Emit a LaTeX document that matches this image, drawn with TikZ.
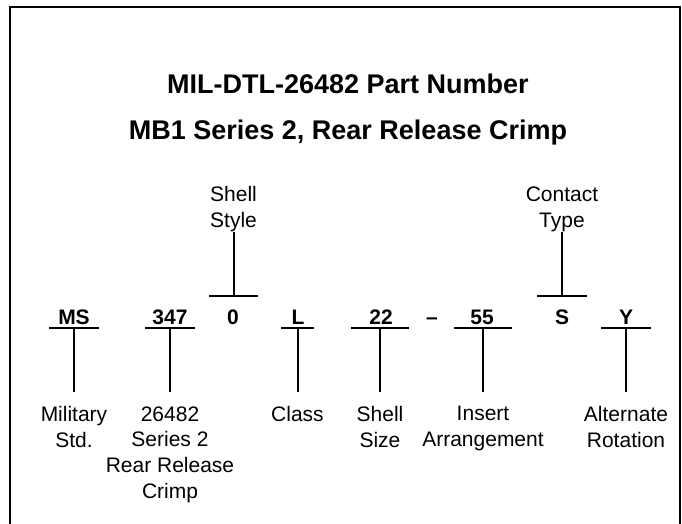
\documentclass[tikz,border=0pt]{standalone}
\usepackage{fontspec}
\setmainfont{Liberation Sans}
\usepackage{tikz}
\usetikzlibrary{positioning}
\tikzstyle{heading} = [font=\fontsize{27}{32}\selectfont\bfseries, inner sep=0pt]
\tikzstyle{code} = [font=\fontsize{21}{25.7}\selectfont\bfseries, inner sep=0pt]
\tikzstyle{desc} = [font=\fontsize{21}{25.7}\selectfont, align=center, inner sep=0pt]
\tikzstyle{underbar} = [rectangle, fill=black, minimum height=2pt, inner sep=0pt]
\tikzstyle{leg} = [line width=2pt]
\tikzstyle{legdown} = [line width=2pt, shorten >=14pt]

\begin{document}
\begin{tikzpicture}[x=1pt, y=1pt]

\useasboundingbox (0,0) rectangle (682,523);

% Frame
\draw [line width=2pt] (10,-4) -- (10,516) -- (680,516) -- (680,-4);

% Title
\node (title) [heading, anchor=base] at (348,429) {MIL-DTL-26482 Part Number};
\node (subtitle) [heading, anchor=base] at (348,383) {MB1 Series 2, Rear Release Crimp};

% Part number
\node (ms) [code, anchor=base] at (74,199) {MS};
\node (series) [code, anchor=base] at (170,199) {347};
\node (style) [code, anchor=base] at (233,199) {0};
\node (class) [code, anchor=base] at (298,199) {L};
\node (size) [code, anchor=base] at (381,199) {22};
\node (dash) [code, anchor=base] at (432,199) {--};
\node (insert) [code, anchor=base] at (482,199) {55};
\node (contact) [code, anchor=base] at (562,199) {S};
\node (rotation) [code, anchor=base] at (626,199) {Y};

% Bars under the part number
\node (msbar) [underbar, minimum width=50pt] at (74,195) {};
\node (seriesbar) [underbar, minimum width=50pt] at (170,195) {};
\node (classbar) [underbar, minimum width=33pt] at (297.5,195) {};
\node (sizebar) [underbar, minimum width=58pt] at (380,195) {};
\node (insertbar) [underbar, minimum width=58pt] at (483,195) {};
\node (rotationbar) [underbar, minimum width=50pt] at (626,195) {};

% Bars above the part number
\node (stylebar) [underbar, minimum width=49pt] at (233.5,227) {};
\node (contactbar) [underbar, minimum width=50pt] at (562,227) {};

% Labels below
\node (mslabel) [desc, below=77pt of msbar] {Military\\Std.};
\node (serieslabel) [desc, below=77pt of seriesbar] {26482\\Series 2\\Rear Release\\Crimp};
\node (classlabel) [desc, below=77pt of classbar] {Class};
\node (sizelabel) [desc, below=77pt of sizebar] {Shell\\Size};
\node (insertlabel) [desc, below=77pt of insertbar] {Insert\\Arrangement};
\node (rotationlabel) [desc, below=77pt of rotationbar] {Alternate\\Rotation};

% Labels above
\node (stylelabel) [desc, above=63pt of stylebar] {Shell\\Style};
\node (contactlabel) [desc, above=63pt of contactbar] {Contact\\Type};

% Legs
\draw [legdown] (msbar) -- (mslabel.north);
\draw [legdown] (seriesbar) -- (serieslabel.north);
\draw [legdown] (classbar) -- (classlabel.north);
\draw [legdown] (sizebar) -- (sizelabel.north);
\draw [legdown] (insertbar) -- (insertlabel.north);
\draw [legdown] (rotationbar) -- (rotationlabel.north);
\draw [leg] (stylebar) -- (stylelabel.south);
\draw [leg] (contactbar) -- (contactlabel.south);

\end{tikzpicture}
\end{document}
